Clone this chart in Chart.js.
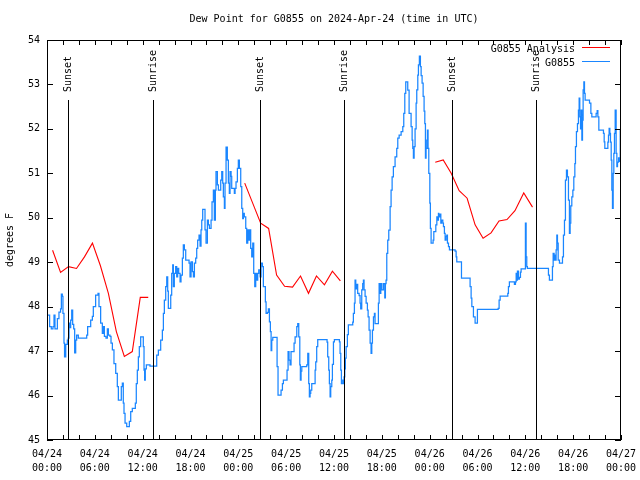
<!DOCTYPE html>
<html>
<head>
<meta charset="utf-8">
<title>Dew Point for G0855</title>
<script src="https://cdn.jsdelivr.net/npm/chart.js@4/dist/chart.umd.min.js"></script>
<style>
  html, body { margin: 0; padding: 0; background: #fff; }
  canvas { display: block; }
</style>
</head>
<body>
<canvas id="chart" width="640" height="480"></canvas>
<script>
// hours since 2024-04-24 00:00 UTC
const obsHours = [
  0.13,0.33,0.54,0.75,0.88,1.0,1.3,1.5,1.7,1.8,1.92,2.0,2.13,2.2,2.35,2.55,2.67,2.76,2.84,2.97,
  3.1,3.22,3.35,3.47,3.6,3.72,3.93,4.85,4.98,5.1,5.48,5.69,5.81,6.1,6.4,6.52,6.73,6.94,7.07,7.2,
  7.4,7.57,7.7,7.9,8.03,8.2,8.4,8.62,8.82,8.95,9.2,9.32,9.45,9.57,9.66,9.79,10.0,10.2,10.33,10.5,
  10.7,11.0,11.08,11.2,11.33,11.46,11.58,11.75,11.96,12.08,12.17,12.25,12.33,12.46,12.92,
  13.76,13.97,14.26,14.47,14.6,14.72,14.89,15.02,15.14,15.22,15.43,15.52,15.64,15.77,15.85,15.97,
  16.14,16.27,16.39,16.52,16.69,16.81,16.98,17.1,17.23,17.4,17.82,17.94,18.07,18.24,18.36,18.49,
  18.65,18.78,18.9,19.07,19.2,19.32,19.41,19.53,19.74,19.82,19.95,20.12,20.24,20.37,20.58,20.7,
  20.87,20.99,21.12,21.2,21.37,21.5,21.71,21.79,21.92,22.04,22.12,22.25,22.33,22.46,22.62,22.75,
  22.87,22.96,23.09,23.17,23.5,23.59,23.71,23.88,24.0,24.13,24.3,24.43,24.55,24.63,24.75,24.93,
  25.05,25.18,25.3,25.43,25.55,25.68,25.81,25.93,26.06,26.18,26.31,26.43,26.56,26.73,26.85,27.02,
  27.14,27.27,27.39,27.48,27.65,27.77,27.9,28.02,28.11,28.19,28.32,28.73,28.86,28.98,29.23,29.36,
  29.53,29.65,29.99,30.11,30.24,30.36,30.49,30.61,30.99,31.12,31.33,31.45,31.58,31.71,31.78,31.87,
  31.96,32.58,32.71,32.83,32.91,33.0,33.08,33.21,33.5,33.63,33.71,33.83,33.96,35.13,35.21,35.34,
  35.42,35.51,35.59,35.72,35.8,35.93,36.05,36.68,36.76,36.85,36.93,37.1,37.18,37.26,37.35,37.43,
  37.52,37.68,37.8,38.35,38.43,38.56,38.64,38.73,38.85,38.97,39.15,39.27,39.35,39.48,39.6,39.69,
  39.77,39.9,40.03,40.19,40.28,40.4,40.53,40.65,40.74,40.82,40.95,41.07,41.15,41.45,41.57,41.66,
  41.78,41.87,41.99,42.2,42.37,42.45,42.53,42.62,42.74,42.87,43.04,43.16,43.29,43.45,43.66,43.87,
  44.0,44.17,44.42,44.63,44.75,44.88,45.0,45.25,45.42,45.67,45.8,45.88,45.96,46.05,46.17,46.3,
  46.38,46.51,46.59,46.71,46.84,46.93,47.05,47.18,47.3,47.39,47.47,47.55,47.64,47.72,47.8,47.89,
  48.02,48.09,48.18,48.43,48.52,48.77,48.9,48.97,49.1,49.14,49.27,49.4,49.48,49.65,49.73,49.85,
  49.94,50.06,50.15,50.23,50.36,50.48,51.19,51.32,51.4,51.99,53.07,53.2,53.29,53.49,53.7,53.99,
  56.59,56.71,56.84,57.8,57.88,58.0,58.63,58.76,58.85,58.93,59.01,59.14,59.26,59.39,59.47,59.93,
  60.01,60.1,60.18,60.26,62.82,62.9,63.02,63.4,63.49,63.61,63.7,63.78,63.86,63.95,64.03,64.12,
  64.28,64.66,64.78,64.91,65.03,65.16,65.28,65.41,65.53,65.62,65.7,65.83,65.96,66.08,66.21,66.29,
  66.41,66.54,66.66,66.75,66.83,66.92,67.0,67.09,67.17,67.25,67.34,67.42,67.5,68.05,68.22,68.34,
  68.88,69.01,69.1,69.22,69.8,69.89,69.97,70.35,70.43,70.51,70.6,70.68,70.77,70.85,70.93,71.02,
  71.1,71.18,71.27,71.39,71.48,71.56,71.69,71.81,71.9
];
const obsValues = [
  47.81,47.55,47.5,47.55,47.81,47.5,47.73,47.88,47.95,48.28,48.23,47.85,47.18,46.87,47.15,47.25,47.29,47.63,47.53,47.7,
  47.92,47.6,47.5,46.96,47.25,47.36,47.29,47.29,47.36,47.55,47.7,47.78,48.0,48.26,48.3,48.0,47.63,47.4,47.55,47.33,
  47.29,47.5,47.36,47.33,47.18,47.03,46.72,46.5,46.2,45.9,45.9,46.2,46.28,45.83,45.6,45.38,45.3,45.3,45.42,45.64,
  45.71,45.71,45.83,46.27,46.57,46.87,47.1,47.32,47.32,47.1,46.57,46.35,46.6,46.69,46.66,
  46.91,47.02,47.25,47.47,47.85,48.15,48.45,48.67,48.35,47.96,47.96,48.26,48.75,48.94,48.45,48.75,
  48.9,48.67,48.86,48.75,48.56,48.71,49.09,49.39,49.28,49.05,48.98,48.67,49.01,48.79,48.67,48.98,
  49.09,49.31,49.5,49.61,49.36,49.73,49.95,50.19,50.19,49.73,49.43,49.95,49.84,49.76,49.95,50.36,
  50.62,49.95,50.62,51.04,50.74,50.62,50.62,50.85,51.04,50.78,50.47,50.21,50.78,51.59,51.3,50.78,
  50.55,51.04,50.93,50.66,50.55,50.66,50.81,51.11,51.3,51.11,50.7,50.21,49.98,50.1,50.02,49.76,
  49.43,49.73,49.5,49.73,49.31,49.12,49.43,48.75,48.45,48.75,48.6,48.75,48.83,48.67,48.98,48.9,
  48.45,48.45,48.11,47.85,47.87,47.95,47.66,47.44,47.01,47.25,47.31,47.31,46.65,46.01,46.01,46.12,
  46.27,46.35,46.35,46.57,46.99,46.8,46.69,46.99,47.18,47.32,47.55,47.62,47.32,46.69,46.35,46.55,
  46.65,46.69,46.95,46.27,45.97,46.05,46.12,46.27,46.27,46.57,46.76,47.1,47.26,47.2,46.87,46.57,
  46.27,45.97,46.2,46.35,46.7,47.21,47.26,47.21,46.95,46.57,46.27,46.35,46.27,46.42,46.6,46.84,
  47.1,47.37,47.59,47.65,47.85,48.08,48.6,48.4,48.5,48.3,48.25,48.08,47.95,48.38,48.52,48.6,
  48.38,48.23,48.08,47.92,47.77,47.47,47.18,46.95,47.18,47.47,47.77,47.85,47.62,47.62,48.08,48.52,
  48.3,48.52,48.38,48.52,48.2,48.52,48.6,49.2,49.5,49.72,50.25,50.62,50.92,51.15,51.37,51.56,
  51.79,51.86,51.94,52.05,52.35,52.8,53.06,52.87,52.35,52.05,51.75,51.56,51.34,51.6,52.0,52.58,
  52.88,53.21,53.44,53.64,53.4,53.2,53.03,52.73,52.4,52.12,51.34,51.56,51.75,51.97,51.56,51.0,
  50.33,49.76,49.43,49.5,49.69,49.84,50.02,49.95,50.1,50.02,50.08,49.88,49.95,49.88,49.8,49.65,
  49.5,49.58,49.61,49.43,49.35,49.28,49.25,49.12,49.01,48.64,48.45,48.19,48.0,47.77,47.63,47.94,
  47.96,48.15,48.24,48.3,48.45,48.56,48.5,48.56,48.75,48.6,48.8,48.62,48.66,48.78,48.85,48.85,
  49.88,49.12,48.9,48.86,48.86,48.71,48.6,48.9,49.2,49.05,49.16,49.05,49.28,49.61,49.43,49.05,
  48.98,49.12,49.61,49.95,50.85,51.07,50.92,50.4,49.65,49.88,50.27,50.47,50.62,50.92,51.22,51.6,
  51.94,52.12,52.42,52.69,52.27,52.0,52.42,51.75,52.2,52.88,53.06,52.8,52.65,52.58,52.35,52.27,
  52.35,52.41,52.27,51.97,51.9,51.71,51.56,51.7,51.86,52.01,51.9,51.7,51.3,50.62,50.21,51.0,
  51.45,51.9,52.42,51.45,51.15,51.25,51.35,51.27,52.0
];

// hourly analysis, null marks the gaps between runs
const analysisHours = [
  0.7,1.7,2.7,3.7,4.7,5.7,6.7,7.7,8.7,9.7,10.7,11.7,12.7, 18,
  24.8,25.8,26.8,27.8,28.8,29.8,30.8,31.8,32.8,33.8,34.8,35.8,36.8, 42,
  48.7,49.7,50.7,51.7,52.7,53.7,54.7,55.7,56.7,57.7,58.7,59.8,60.9
];
const analysisValues = [
  49.27,48.77,48.9,48.86,49.12,49.43,48.92,48.3,47.44,46.88,46.99,48.21,48.21, null,
  50.78,50.33,49.88,49.76,48.71,48.46,48.44,48.69,48.3,48.69,48.49,48.8,48.58, null,
  51.25,51.3,51.0,50.61,50.44,49.84,49.54,49.66,49.93,49.96,50.16,50.56,50.24
];

const sunHours = [2.68, 13.34, 26.77, 37.31, 50.86, 61.4];
const sunLabels = ['Sunset', 'Sunrise', 'Sunset', 'Sunrise', 'Sunset', 'Sunrise'];

const tickDates = ['04/24','04/24','04/24','04/24','04/25','04/25','04/25','04/25','04/26','04/26','04/26','04/26','04/27'];
const tickTimes = ['00:00','06:00','12:00','18:00','00:00','06:00','12:00','18:00','00:00','06:00','12:00','18:00','00:00'];

const FONT = '10px "DejaVu Sans Mono", monospace';
const RED = '#ff0000';
const BLUE = '#1a86ff';

const legendLabels = ['G0855 Analysis', 'G0855'];
const legendColors = [RED, BLUE];

// frame, inward ticks, sun markers, legend and title, gnuplot style
const decorations = {
    id: 'decorations',
    afterDatasetsDraw(chart) {
        const { ctx, chartArea: a, scales: { x, y } } = chart;
        ctx.save();
        ctx.strokeStyle = '#000';
        ctx.fillStyle = '#000';
        ctx.lineWidth = 1;
        ctx.font = FONT;

        // sunrise / sunset markers
        sunHours.forEach((h, i) => {
            const px = Math.round(x.getPixelForValue(h)) + 0.5;
            ctx.beginPath();
            ctx.moveTo(px, a.top + 60);
            ctx.lineTo(px, a.bottom);
            ctx.stroke();
            ctx.save();
            ctx.translate(px, a.top + 52);
            ctx.rotate(-Math.PI / 2);
            ctx.textAlign = 'left';
            ctx.textBaseline = 'middle';
            ctx.fillText(sunLabels[i], 0, 0);
            ctx.restore();
        });

        // border
        ctx.strokeRect(a.left + 0.5, a.top + 0.5, a.right - a.left - 1, a.bottom - a.top - 1);

        // ticks pointing inward, mirrored
        ctx.beginPath();
        for (let v = 45; v <= 54; v++) {
            const py = Math.round(y.getPixelForValue(v)) + 0.5;
            ctx.moveTo(a.left, py); ctx.lineTo(a.left + 6, py);
            ctx.moveTo(a.right - 6, py); ctx.lineTo(a.right, py);
        }
        for (let h = 0; h <= 72; h += 2) {
            const px = Math.round(x.getPixelForValue(h)) + 0.5;
            ctx.moveTo(px, a.bottom); ctx.lineTo(px, a.bottom - 5);
            ctx.moveTo(px, a.top); ctx.lineTo(px, a.top + 5);
        }
        ctx.stroke();

        // legend
        ctx.textAlign = 'right';
        ctx.textBaseline = 'middle';
        legendLabels.forEach((label, i) => {
            const ly = Math.round(a.top + 9 + i * 14);
            ctx.fillStyle = '#000';
            ctx.fillText(label, a.right - 46, ly);
            ctx.fillStyle = legendColors[i];
            ctx.fillRect(a.right - 39, ly - 2, 28, 1);
        });

        // title
        ctx.fillStyle = '#000';
        ctx.textAlign = 'center';
        ctx.fillText('Dew Point for G0855 on 2024-Apr-24 (time in UTC)', (a.left + a.right) / 2, 19);
        ctx.restore();
    }
};

const ctx = document.getElementById('chart').getContext('2d');

new Chart(ctx, {
    type: 'line',
    data: {
        datasets: [{
            label: 'G0855',
            data: obsHours.map((h, i) => ({ x: h, y: obsValues[i] })),
            borderColor: BLUE,
            borderWidth: 1.25,
            stepped: true,
            pointRadius: 0,
            fill: false,
            order: 1
        }, {
            label: 'G0855 Analysis',
            data: analysisHours.map((h, i) => ({ x: h, y: analysisValues[i] })),
            borderColor: RED,
            borderWidth: 1.1,
            pointRadius: 0,
            spanGaps: false,
            fill: false,
            order: 2
        }]
    },
    options: {
        responsive: false,
        animation: false,
        devicePixelRatio: 1,
        layout: { autoPadding: false, padding: { top: 40, right: 19, bottom: 0, left: 0 } },
        plugins: {
            legend: { display: false },
            tooltip: { enabled: false },
            title: { display: false }
        },
        scales: {
            x: {
                type: 'linear',
                min: 0,
                max: 72,
                afterFit: s => {
                    s.height = 40;
                    // keep the edge labels from shrinking the plot
                    s.paddingLeft = 0;
                    s.paddingRight = 0;
                },
                afterBuildTicks: s => {
                    s.ticks = [];
                    for (let h = 0; h <= 72; h += 6) s.ticks.push({ value: h });
                },
                grid: { display: false, drawTicks: false },
                border: { display: false },
                ticks: {
                    autoSkip: false,
                    maxRotation: 0,
                    padding: 7,
                    color: '#000',
                    font: { family: '"DejaVu Sans Mono", monospace', size: 10, lineHeight: 1.4 },
                    callback: v => [tickDates[v / 6], tickTimes[v / 6]]
                }
            },
            y: {
                min: 45,
                max: 54,
                afterFit: s => {
                    s.width = 47;
                    s.paddingTop = 0;
                    s.paddingBottom = 0;
                },
                grid: { display: false, drawTicks: false },
                border: { display: false },
                ticks: {
                    stepSize: 1,
                    padding: 7,
                    color: '#000',
                    font: { family: '"DejaVu Sans Mono", monospace', size: 10 }
                },
                title: {
                    display: true,
                    text: 'degrees F',
                    color: '#000',
                    padding: 4,
                    font: { family: '"DejaVu Sans Mono", monospace', size: 10 }
                }
            }
        }
    },
    plugins: [decorations]
});
</script>
</body>
</html>
